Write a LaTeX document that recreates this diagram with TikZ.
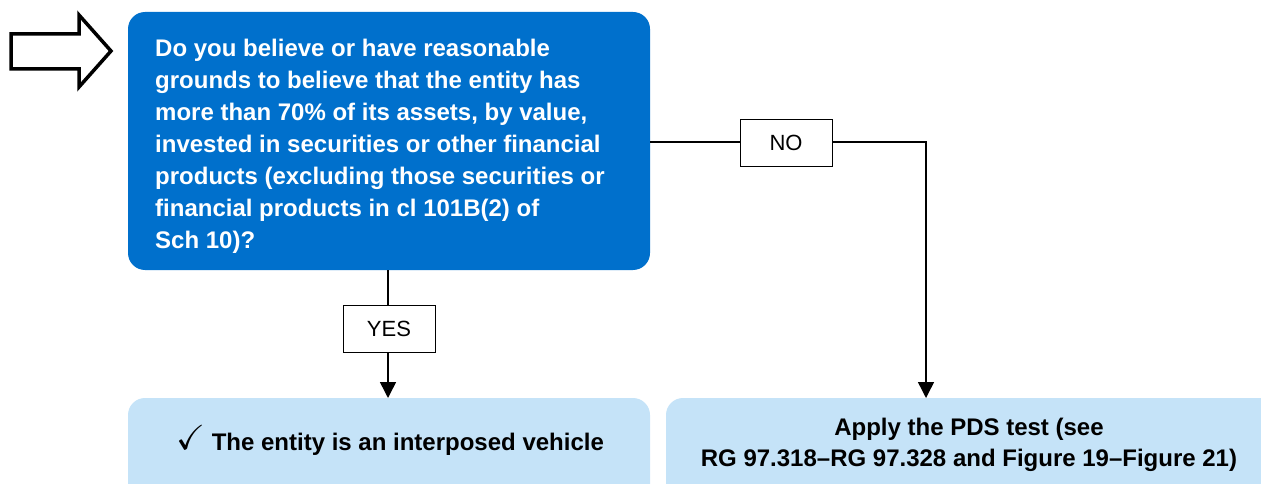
\documentclass[tikz,border=0pt]{standalone}
\usepackage{fontspec}
\usepackage{amssymb}
\setmainfont{Liberation Sans}
\usetikzlibrary{arrows.meta}
\definecolor{qblue}{RGB}{0,112,204}
\definecolor{lblue}{RGB}{197,227,248}
\tikzset{
  px/.style={x=1pt,y=-1pt},
  question/.style={fill=qblue, rounded corners=17pt, draw=none},
  outcome/.style={fill=lblue, rounded corners=17pt, draw=none},
  tag/.style={draw=black, line width=1pt, fill=white, minimum width=92pt, minimum height=47pt, inner sep=0pt, font=\fontsize{22}{24}\selectfont},
  flow/.style={line width=1.5pt, -{Triangle[width=16pt,length=16pt]}},
  link/.style={line width=1.5pt},
}
\begin{document}
\begin{tikzpicture}[px]
\useasboundingbox (0,0) rectangle (1261,484);
\clip (0,0) rectangle (1261,484);

% entry arrow
\draw[line width=3.5pt, line join=miter]
  (11,34) -- (79,34) -- (79,15) -- (111,51) -- (79,87) -- (79,69) -- (11,69) -- cycle;

% question box (node base sits on the last line)
\fill[question] (128,12) rectangle (650,270);
\node[anchor=base west, inner sep=0pt, text=white, align=left,
      font=\fontsize{24}{32}\selectfont\bfseries] (qtext) at (155,248)
  {Do you believe or have reasonable\\
   grounds to believe that the entity has\\
   more than 70\% of its assets, by value,\\
   invested in securities or other financial\\
   products (excluding those securities or\\
   financial products in cl 101B(2) of\\
   Sch 10)?};
\coordinate (qbottom) at (388,270);
\coordinate (qright) at (650,142);

% outcome boxes
\fill[outcome] (128,398) rectangle (650,510);
\node[anchor=base, inner sep=0pt, font=\fontsize{24}{28}\selectfont\bfseries] (yesout) at (390,450)
  {\raisebox{1pt}{\scalebox{1.45}{$\checkmark$}} The entity is an interposed vehicle};
\fill[outcome] (666,398) rectangle (1300,510);
\node[anchor=base, inner sep=0pt, align=center, font=\fontsize{24}{31}\selectfont\bfseries] (noout) at (969,466)
  {Apply the PDS test (see\\RG 97.318--RG 97.328 and Figure 19--Figure 21)};
\coordinate (yestop) at (388,398);
\coordinate (notop) at (926,398);

% NO branch
\node[tag] (nolbl) at (786,143) {NO};
\draw[link] (qright) -- (qright -| nolbl.west);
\draw[flow] (nolbl.east |- qright) -| (notop);

% YES branch
\node[tag] (yeslbl) at (389,329) {YES};
\draw[link] (qbottom) -- (qbottom |- yeslbl.north);
\draw[flow] (qbottom |- yeslbl.south) -- (yestop);
\end{tikzpicture}
\end{document}
